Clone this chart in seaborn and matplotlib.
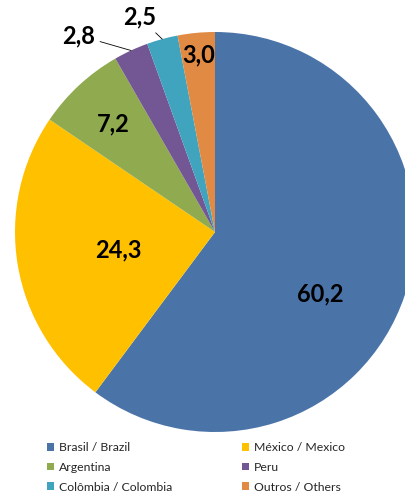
import numpy as np
import matplotlib
matplotlib.use("Agg")
import matplotlib.pyplot as plt
import seaborn as sns

# Data
countries = ["Brasil / Brazil", "México / Mexico", "Argentina", "Peru",
             "Colômbia / Colombia", "Outros / Others"]
shares = [60.2, 24.3, 7.2, 2.8, 2.5, 3.0]
value_labels = ["60,2", "24,3", "7,2", "2,8", "2,5", "3,0"]
colors = ["#4A74A8", "#FFC000", "#8FAA4F", "#735694", "#41A4BE", "#E08A43"]

sns.set_style("white")
plt.rcParams["font.family"] = ["Lato", "DejaVu Sans"]

fig = plt.figure(figsize=(4.06, 4.94), dpi=100)
ax = fig.add_axes([0, 0, 1, 1])

cx, cy, r = 215, 494 - 232, 200
palette = sns.color_palette(colors)
wedges, _ = ax.pie(shares, colors=palette, startangle=90, counterclock=False,
                   radius=r, center=(cx, cy), frame=True,
                   wedgeprops=dict(linewidth=0))
ax.set_xlim(0, 406)
ax.set_ylim(0, 494)
ax.set_aspect("equal")
ax.axis("off")

# label placement: (distance as fraction of radius, angle shift deg) for inside labels
inside = {0: (0.61, -12), 1: (0.49, 1), 2: (0.74, 0.5), 5: (0.89, 0)}
outside = {3: (-52, 15), 4: (-23, 22)}  # pixel offsets from the wedge edge
for i, w in enumerate(wedges):
    mid = np.deg2rad((w.theta1 + w.theta2) / 2)
    if i in inside:
        d, shift = inside[i]
        a = mid + np.deg2rad(shift)
        ax.text(cx + d * r * np.cos(a), cy + d * r * np.sin(a), value_labels[i],
                ha="center", va="center", fontsize=17, fontweight="bold",
                color="black")
    else:
        ex, ey = cx + r * np.cos(mid), cy + r * np.sin(mid)
        ox, oy = outside[i]
        ax.annotate(value_labels[i], xy=(ex, ey), xytext=(ox, oy),
                    textcoords="offset pixels", ha="center", va="center",
                    fontsize=17, fontweight="bold", color="black",
                    arrowprops=dict(arrowstyle="-", color="black", lw=0.6,
                                    shrinkA=1, shrinkB=0))

# legend filled row by row
order = [0, 2, 4, 1, 3, 5]
ax.legend([wedges[k] for k in order], [countries[k] for k in order],
          ncol=2, loc="upper left", bbox_to_anchor=(0.103, 0.115),
          bbox_transform=fig.transFigure, frameon=False, fontsize=8.8,
          handlelength=0.6, handleheight=0.6, handletextpad=0.4,
          columnspacing=5.7, labelspacing=0.72, borderaxespad=0)

fig.savefig("out.png", dpi=100)
